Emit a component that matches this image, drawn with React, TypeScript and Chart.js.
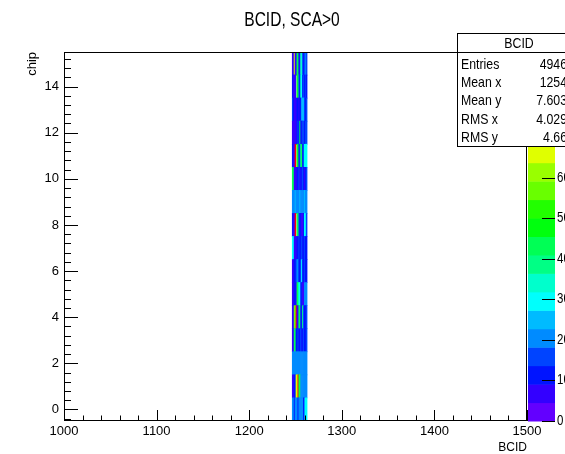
import { useEffect, useRef } from "react";
import { Chart, registerables } from "chart.js";

Chart.register(...registerables);

const FAMILY = "'Liberation Sans Narrow', 'Liberation Sans', Arial, sans-serif";

const TITLE = "BCID, SCA>0";
const X_TITLE = "BCID";
const Y_TITLE = "chip";

// BCID bins (x) and chip index (y)
const bcidBins = [1247, 1248, 1249, 1250, 1251, 1252, 1253, 1254, 1255, 1256, 1257, 1258, 1259, 1260, 1261, 1262];
const chipIds = [0, 1, 2, 3, 4, 5, 6, 7, 8, 9, 10, 11, 12, 13, 14, 15];

// counts per chip, one value per BCID bin
const chip0 = [20, 21, 13, 20, 19, 21, 12, 20, 21, 19, 20, 21, 13, 20, 30, 29];
const chip1 = [5, 6, 13, 12, 68, 66, 89, 45, 43, 20, 21, 19, 20, 21, 20, 19];
const chip2 = [20, 21, 20, 19, 21, 20, 22, 19, 20, 21, 20, 19, 21, 20, 22, 20];
const chip3 = [5, 6, 42, 44, 13, 12, 14, 13, 12, 14, 13, 12, 14, 13, 12, 14];
const chip4 = [5, 6, 58, 55, 88, 6, 7, 44, 42, 13, 12, 40, 14, 13, 12, 14];
const chip5 = [6, 5, 13, 12, 6, 45, 42, 30, 29, 13, 12, 7, 6, 21, 20, 22];
const chip6 = [5, 6, 13, 12, 14, 20, 21, 13, 12, 14, 30, 13, 12, 14, 13, 12];
const chip7 = [30, 29, 8, 7, 9, 13, 12, 14, 13, 12, 14, 13, 12, 14, 13, 12];
const chip8 = [13, 6, 5, 90, 0, 45, 43, 14, 12, 13, 8, 7, 10, 30, 31, 14];
const chip9 = [20, 21, 19, 24, 20, 21, 19, 20, 25, 21, 20, 19, 21, 24, 20, 21];
const chip10 = [44, 43, 6, 5, 7, 13, 12, 14, 8, 13, 12, 14, 13, 7, 12, 14];
const chip11 = [12, 6, 5, 91, 0, 46, 44, 13, 14, 40, 42, 12, 14, 30, 31, 29];
const chip12 = [5, 6, 8, 9, 8, 13, 14, 12, 42, 10, 12, 14, 15, 13, 14, 16];
const chip13 = [14, 13, 6, 5, 7, 13, 12, 9, 10, 10, 25, 27, 24, 14, 13, 15];
const chip14 = [13, 6, 5, 7, 0, 48, 44, 14, 12, 32, 30, 13, 14, 12, 15, 13];
const chip15 = [5, 6, 68, 7, 6, 45, 42, 12, 6, 35, 33, 14, 13, 15, 19, 18];
const counts = [chip0, chip1, chip2, chip3, chip4, chip5, chip6, chip7, chip8, chip9, chip10, chip11, chip12, chip13, chip14, chip15];

const xTicks = [1000, 1100, 1200, 1300, 1400, 1500];
const yTicks = [0, 2, 4, 6, 8, 10, 12, 14];
const zTicks = [0, 10, 20, 30, 40, 50, 60, 70, 80, 90];

const statsTitle = "BCID";
const statsLabels = ["Entries", "Mean x", "Mean y", "RMS x", "RMS y"];
const statsValues = ["4946", "1254", "7.603", "4.029", "4.66"];

const X_MIN = 1000;
const X_MAX = 1500;
const Y_MIN = -0.5;
const Y_MAX = 15.5;
const N_LEVELS = 20;
const N_COLORS = 50;
const ZMAX = Math.max(...counts.map((r) => Math.max(...r)));
const NARROW = 0.82;

function paletteColor(ci: number): string {
  if (ci >= N_COLORS - 1) return "rgb(255,0,0)";
  const hue = 280 - (ci + 1) * (280 / N_COLORS);
  return `hsl(${hue},100%,50%)`;
}
function levelColor(level: number): string {
  const ci = Math.floor(((level + 0.99) * N_COLORS) / N_LEVELS);
  return paletteColor(ci);
}
function valueColor(v: number): string {
  let level = Math.floor(0.01 + (v * N_LEVELS) / ZMAX);
  if (level > N_LEVELS - 1) level = N_LEVELS - 1;
  return levelColor(level);
}

function minorValues(majors: number[], nsub: number, lo: number, hi: number): { v: number; major: boolean }[] {
  const step = (majors[1] - majors[0]) / nsub;
  const out: { v: number; major: boolean }[] = [];
  const start = majors[0] - Math.floor((majors[0] - lo) / step + 1e-9) * step;
  for (let v = start; v <= hi + 1e-9; v += step) {
    const k = Math.round((v - majors[0]) / step);
    out.push({ v, major: k % nsub === 0 });
  }
  return out;
}

function narrowText(ctx: CanvasRenderingContext2D, text: string, x: number, y: number, align: CanvasTextAlign, size: number, sx: number = NARROW) {
  ctx.save();
  ctx.translate(x, y);
  ctx.scale(sx, 1);
  ctx.font = `${size}px ${FAMILY}`;
  ctx.textAlign = align;
  ctx.textBaseline = "middle";
  ctx.fillText(text, 0, 0);
  ctx.restore();
}

const rootDecor = {
  id: "rootDecor",
  afterDatasetsDraw(chart: any) {
    const { ctx, chartArea: a, scales } = chart;
    const x = scales.x;
    const y = scales.y;
    ctx.save();
    ctx.strokeStyle = "#000";
    ctx.lineWidth = 1;
    ctx.beginPath();
    for (const t of minorValues(xTicks, 5, X_MIN, X_MAX)) {
      const px = Math.round(x.getPixelForValue(t.v)) + 0.5;
      const len = t.major ? 11 : 5.5;
      ctx.moveTo(px, a.bottom);
      ctx.lineTo(px, a.bottom - len);
    }
    for (const t of minorValues(yTicks, 5, Y_MIN, Y_MAX)) {
      const py = Math.round(y.getPixelForValue(t.v)) + 0.5;
      const len = t.major ? 14 : 7;
      ctx.moveTo(a.left, py);
      ctx.lineTo(a.left + len, py);
    }
    ctx.stroke();
    ctx.strokeRect(a.left + 0.5, a.top + 0.5, a.right - a.left - 1, a.bottom - a.top - 1);
    ctx.restore();
  },
  afterDraw(chart: any) {
    const { ctx, chartArea: a } = chart;
    ctx.save();
    // palette
    const px0 = a.right + 1;
    const px1 = a.right + 28;
    const zPix = (z: number) => a.bottom - (z / ZMAX) * (a.bottom - a.top);
    for (let k = 0; k < N_LEVELS; k++) {
      const yb = zPix((k * ZMAX) / N_LEVELS);
      const yt = zPix(((k + 1) * ZMAX) / N_LEVELS);
      ctx.fillStyle = levelColor(k);
      ctx.fillRect(px0, yt, px1 - px0, yb - yt + 0.5);
    }
    ctx.strokeStyle = "#000";
    ctx.lineWidth = 1;
    ctx.fillStyle = "#000";
    ctx.beginPath();
    for (const z of zTicks) {
      const py = Math.round(zPix(z)) + 0.5;
      ctx.moveTo(px1 - 13, py);
      ctx.lineTo(px1, py);
    }
    ctx.stroke();
    for (const z of zTicks) {
      narrowText(ctx, String(z), px1 + 2, zPix(z), "left", 14);
    }
    // stats box
    const bx = 457.5;
    const by = 33.5;
    const bw = 130;
    const bh = 113;
    ctx.fillStyle = "#fff";
    ctx.fillRect(bx, by, bw, bh);
    ctx.strokeStyle = "#000";
    ctx.strokeRect(bx, by, bw, bh);
    ctx.beginPath();
    ctx.moveTo(bx, 52.5);
    ctx.lineTo(bx + bw, 52.5);
    ctx.stroke();
    ctx.fillStyle = "#000";
    narrowText(ctx, statsTitle, 519, 43.5, "center", 15);
    statsLabels.forEach((lab, i) => {
      const ry = 64.5 + i * 18.3;
      narrowText(ctx, lab, 461, ry, "left", 15);
      narrowText(ctx, statsValues[i], 567, ry, "right", 15);
    });
    // title
    narrowText(ctx, TITLE, 292, 20, "center", 21, 0.74);
    ctx.restore();
  },
};

export default function App() {
  const ref = useRef<HTMLCanvasElement | null>(null);
  useEffect(() => {
    if (!ref.current) return;
    const datasets = chipIds.map((chip, ci) => {
      const row = counts[ci];
      const pts: any[] = [];
      const cols: string[] = [];
      bcidBins.forEach((b, i) => {
        if (row[i] > 0) {
          pts.push({ x: b, y: [chip - 0.5, chip + 0.5] });
          cols.push(valueColor(row[i]));
        }
      });
      return {
        label: "chip " + chip,
        data: pts,
        backgroundColor: cols,
        borderWidth: 0,
        barPercentage: 1,
        categoryPercentage: 1,
        grouped: false,
      };
    });
    const tickFont = { family: FAMILY, size: 13 };
    const chart = new Chart(ref.current, {
      type: "bar",
      data: { datasets: datasets as any },
      plugins: [rootDecor],
      options: {
        animation: false,
        responsive: false,
        layout: { padding: { top: 52, right: 38, left: 0, bottom: 0 } },
        plugins: { legend: { display: false }, tooltip: { enabled: false }, title: { display: false } },
        scales: {
          x: {
            type: "linear",
            min: X_MIN,
            max: X_MAX,
            offset: false,
            grid: { display: false, drawTicks: false, offset: false },
            border: { display: false },
            afterBuildTicks: (s: any) => {
              s.ticks = xTicks.map((v) => ({ value: v }));
            },
            afterFit: (s: any) => {
              s.height = 33;
              s.paddingLeft = 0;
              s.paddingRight = 0;
            },
            ticks: {
              font: tickFont,
              color: "#000",
              padding: 3,
              maxRotation: 0,
              autoSkip: false,
              callback: (v: any) => String(v),
            },
            title: {
              display: true,
              text: X_TITLE,
              align: "end",
              color: "#000",
              font: { family: FAMILY, size: 12, lineHeight: 1 },
              padding: 0,
            },
          },
          y: {
            type: "linear",
            min: Y_MIN,
            max: Y_MAX,
            grid: { display: false, drawTicks: false },
            border: { display: false },
            afterBuildTicks: (s: any) => {
              s.ticks = yTicks.map((v) => ({ value: v }));
            },
            afterFit: (s: any) => {
              s.width = 64;
              s.paddingTop = 0;
              s.paddingBottom = 0;
            },
            ticks: {
              font: tickFont,
              color: "#000",
              padding: 5,
              autoSkip: false,
              callback: (v: any) => String(v),
            },
            title: {
              display: true,
              text: Y_TITLE,
              align: "end",
              color: "#000",
              font: { family: FAMILY, size: 13, lineHeight: 1.2 },
              padding: { top: 25, bottom: 0 },
            },
          },
        },
      } as any,
    });
    return () => chart.destroy();
  }, []);
  return (
    <div style={{ position: "absolute", left: 0, top: 0, width: 565, height: 454, background: "#fff" }}>
      <canvas ref={ref} width={565} height={454} style={{ display: "block" }} />
    </div>
  );
}
